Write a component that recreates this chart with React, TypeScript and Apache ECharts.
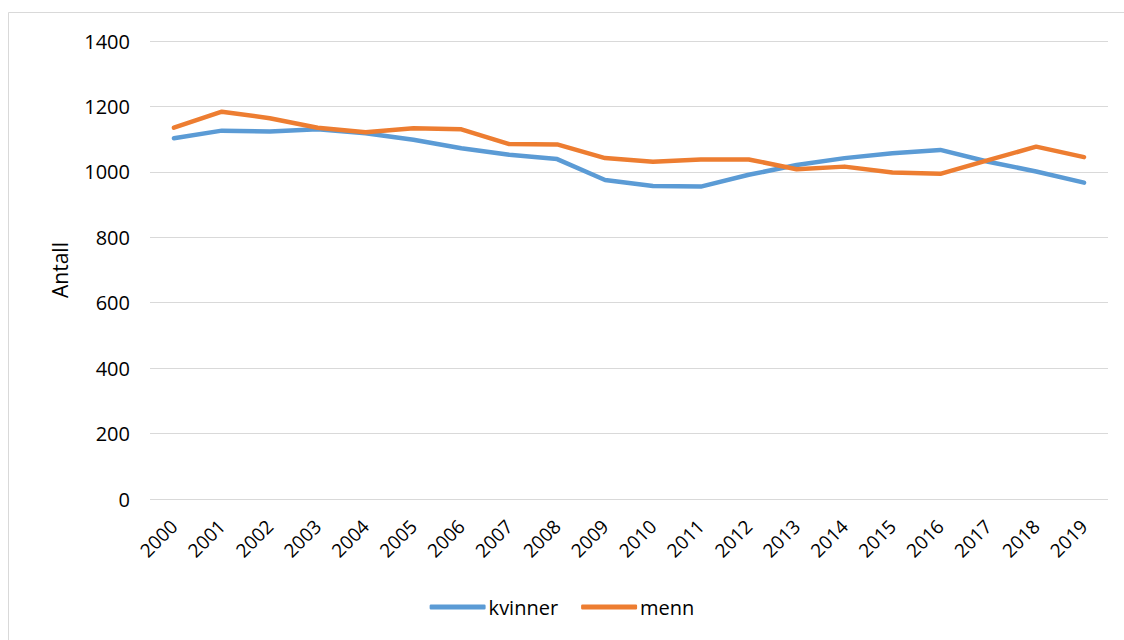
import React, { useEffect, useRef } from "react";
import * as echarts from "echarts";

const years = ["2000","2001","2002","2003","2004","2005","2006","2007","2008","2009","2010","2011","2012","2013","2014","2015","2016","2017","2018","2019"];
const kvinner = [1103,1126,1123,1130,1118,1098,1072,1052,1039,975,957,955,991,1021,1042,1057,1067,1031,1001,967];
const menn = [1135,1184,1164,1135,1121,1133,1130,1085,1084,1042,1031,1038,1038,1008,1016,998,994,1036,1077,1045];
const yTicks = { min: 0, max: 1400, interval: 200 };
const FONT = "'Open Sans', 'Liberation Sans', sans-serif";

export default function App() {
  const ref = useRef<HTMLDivElement>(null);
  useEffect(() => {
    const chart = echarts.init(ref.current!, null, { renderer: "svg" });
    chart.setOption({
      animation: false,
      backgroundColor: "#ffffff",
      textStyle: { fontFamily: FONT, color: "#000" },
      graphic: [
        {
          type: "rect",
          shape: { x: 8.5, y: 12.5, width: 1130, height: 640 },
          style: { fill: "none", stroke: "#d9d9d9", lineWidth: 1 },
          silent: true,
        },
      ],
      grid: { left: 150, right: 16, top: 41, bottom: 141, containLabel: false },
      legend: {
        bottom: 18,
        left: "center",
        itemWidth: 56,
        itemHeight: 5,
        itemGap: 23,
        icon: "roundRect",
        textStyle: { fontSize: 20, fontFamily: FONT, color: "#000", padding: [0, 0, 0, -2] },
        data: ["kvinner", "menn"],
      },
      xAxis: {
        type: "category",
        data: years,
        boundaryGap: true,
        axisLine: { show: false },
        axisTick: { show: false },
        axisLabel: { rotate: 45, fontSize: 19, color: "#000", margin: 24, interval: 0, fontFamily: FONT },
      },
      yAxis: {
        type: "value",
        min: yTicks.min,
        max: yTicks.max,
        interval: yTicks.interval,
        name: "Antall",
        nameLocation: "middle",
        nameGap: 80,
        nameTextStyle: { fontSize: 21, color: "#000", fontFamily: FONT },
        axisLine: { show: false },
        axisTick: { show: false },
        axisLabel: {
          fontSize: 20,
          color: "#000",
          margin: 20,
          fontFamily: FONT,
          formatter: (v: number) => String(v),
        },
        splitLine: { lineStyle: { color: "#d9d9d9", width: 1 } },
      },
      series: [
        {
          name: "kvinner",
          type: "line",
          data: kvinner,
          symbol: "none",
          lineStyle: { width: 4.5, color: "#5B9BD5", cap: "round", join: "round" },
          itemStyle: { color: "#5B9BD5" },
        },
        {
          name: "menn",
          type: "line",
          data: menn,
          symbol: "none",
          lineStyle: { width: 4.5, color: "#ED7D31", cap: "round", join: "round" },
          itemStyle: { color: "#ED7D31" },
        },
      ],
    });
    return () => chart.dispose();
  }, []);
  return (
    <div
      ref={ref}
      style={{ position: "fixed", left: 0, top: 0, width: 1124, height: 640 }}
    />
  );
}
